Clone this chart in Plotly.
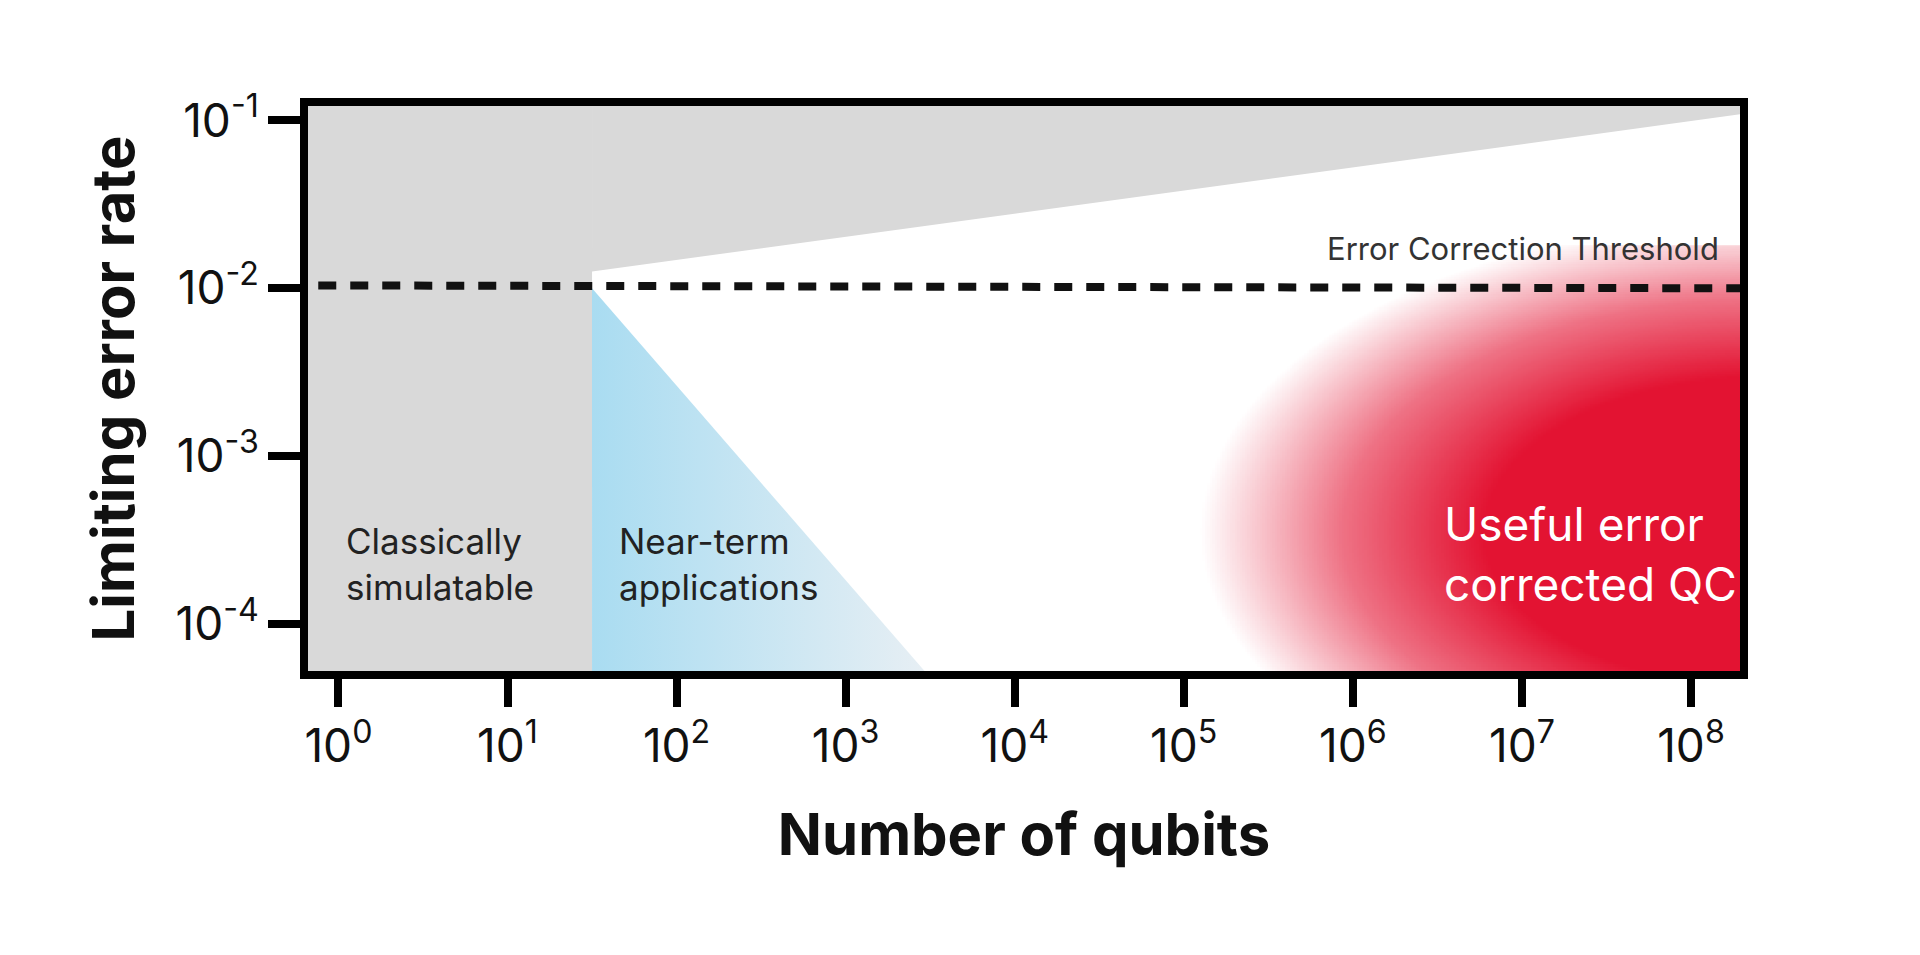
import numpy as np
import plotly.graph_objects as go

# ---- data (log10 units) ----
x_tick_exp = [0, 1, 2, 3, 4, 5, 6, 7, 8]
y_tick_exp = [-1, -2, -3, -4]
x_range_log = [-0.18, 8.29]
y_range_log = [-4.28, -0.914]
classical_edge_log = 1.5          # boundary of classically simulatable region
wedge_start_log = [1.5, -1.9]     # start of upper grey wedge
wedge_end_log = [8.29, -0.95]
threshold_y = [0.0104, 0.0100]    # error correction threshold (start, end)
nearterm_tip_log = [1.5, -2.0]
nearterm_foot_log = 3.51
red_center_log = [8.45, -3.45]
red_radius_log = [3.35, 1.85]

GREY = "#d9d9d9"

fig = go.Figure()
x0, x1 = x_range_log
y0, y1 = y_range_log

fig.add_trace(go.Scatter(
    x=[10**v for v in [x0 - 0.1, classical_edge_log, classical_edge_log, x0 - 0.1]],
    y=[10**v for v in [y0 - 0.1, y0 - 0.1, y1 + 0.1, y1 + 0.1]],
    fill="toself", fillcolor=GREY, line=dict(width=0), mode="lines",
    hoverinfo="skip", showlegend=False))
fig.add_trace(go.Scatter(
    x=[10**v for v in [wedge_start_log[0], wedge_end_log[0] + 0.1, wedge_end_log[0] + 0.1, wedge_start_log[0]]],
    y=[10**v for v in [wedge_start_log[1], wedge_end_log[1], y1 + 0.1, y1 + 0.1]],
    fill="toself", fillcolor=GREY, line=dict(width=0), mode="lines",
    hoverinfo="skip", showlegend=False))

# blue near-term triangle
fig.add_trace(go.Scatter(
    x=[10**nearterm_tip_log[0], 10**nearterm_tip_log[0], 10**nearterm_foot_log, 10**nearterm_tip_log[0]],
    y=[10**nearterm_tip_log[1], 10**(y0 - 0.05), 10**(y0 - 0.05), 10**nearterm_tip_log[1]],
    fill="toself", mode="lines", line=dict(width=0),
    fillgradient=dict(type="horizontal", colorscale=[[0, "#a9dcf1"], [1, "#e8eff4"]]),
    hoverinfo="skip", showlegend=False))

# red useful error corrected region
rx = np.linspace(4.5, x1 + 0.02, 260)
ry = np.linspace(y0 - 0.02, -1.75, 200)
RX, RY = np.meshgrid(rx, ry)
d = np.sqrt(((RX - red_center_log[0]) / red_radius_log[0])**2 + ((RY - red_center_log[1]) / red_radius_log[1])**2)
zr = np.clip((1 - d) / 0.5, 0, 1)
fig.add_trace(go.Heatmap(
    x=10**rx, y=10**ry, z=zr, zmin=0, zmax=1, showscale=False, hoverinfo="skip",
    colorscale=[[0, "rgba(227,19,50,0)"], [0.5, "rgba(227,19,50,0.6)"], [1, "rgba(227,19,50,1)"]]))

fig.add_trace(go.Scatter(
    x=[10**x0 * 1.15, 10**x1], y=threshold_y, mode="lines",
    line=dict(color="#111", width=8, dash="18px,14px"), hoverinfo="skip", showlegend=False))

fig.add_annotation(x=8.18, y=-1.76, xref="x", yref="y", text="Error Correction Threshold",
                   showarrow=False, xanchor="right", font=dict(size=31, color="#333"))
fig.add_annotation(x=0.03, y=-3.64, text="Classically<br>simulatable", showarrow=False,
                   xanchor="left", align="left", font=dict(size=35, color="#222"))
fig.add_annotation(x=1.645, y=-3.64, text="Near-term<br>applications", showarrow=False,
                   xanchor="left", align="left", font=dict(size=35, color="#222"))
fig.add_annotation(x=6.53, y=-3.58, text="Useful error<br>corrected QC", showarrow=False,
                   xanchor="left", align="left", font=dict(size=46, color="white"))

common = dict(type="log", ticks="outside", tickwidth=8, tickcolor="black",
              showline=True, linewidth=8, linecolor="black", mirror=True,
              showgrid=False, zeroline=False, tickfont=dict(size=46, color="#111"))
fig.update_xaxes(range=x_range_log, ticklen=28,
                 tickvals=[10**e for e in x_tick_exp],
                 ticktext=[f"10<sup>{e}</sup>" for e in x_tick_exp],
                 title=dict(text="<b>Number of qubits</b>", font=dict(size=58, color="#111"), standoff=45),
                 **common)
fig.update_yaxes(range=y_range_log, ticklen=32,
                 tickvals=[10**e for e in y_tick_exp],
                 ticktext=[f"10<sup>{e}</sup>" for e in y_tick_exp],
                 title=dict(text="<b>Limiting error rate</b>", font=dict(size=58, color="#111"), standoff=25),
                 **common)

fig.update_layout(width=1920, height=955, plot_bgcolor="white", paper_bgcolor="white",
                  margin=dict(l=300, r=188, t=98, b=292),
                  font=dict(family="Inter, Roboto, sans-serif"))
fig.write_html("out.html")
